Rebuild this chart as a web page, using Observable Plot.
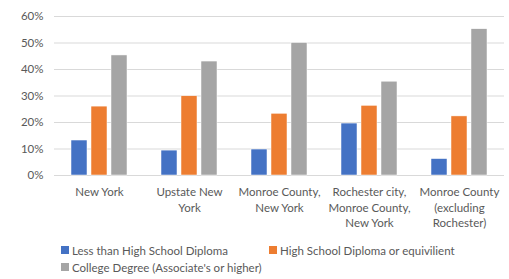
<!DOCTYPE html>
<html>
<head>
<meta charset="utf-8">
<script src="https://cdn.jsdelivr.net/npm/d3@7"></script>
<script src="https://cdn.jsdelivr.net/npm/@observablehq/plot@0.6"></script>
<style>
  html, body { margin: 0; padding: 0; background: #fff; }
  #wrap { position: relative; width: 509px; height: 279px; overflow: hidden; font-family: Lato, "Open Sans", sans-serif; }
  #title { position: absolute; left: 12px; top: -9px; font-size: 11px; font-weight: bold; color: #7f7f7f; letter-spacing: 0.3px; white-space: nowrap; }
  #chart { position: absolute; left: 0; top: 0; }
  .legend { position: absolute; left: 61px; font-size: 11.5px; color: #595959; white-space: nowrap; }
  .item { position: absolute; top: 0; height: 14px; display: flex; align-items: center; }
  .sw { width: 8px; height: 8px; margin-right: 3px; }
</style>
</head>
<body>
<div id="wrap">
  <div id="title">REGIONAL EDUCATIONAL ATTAINMENT</div>
  <div id="chart"></div>
  <div class="legend" id="legend" style="top:243px;"></div>
</div>
<script>
const categories = [
  "New York",
  "Upstate New York",
  "Monroe County, New York",
  "Rochester city, Monroe County, New York",
  "Monroe County (excluding Rochester)"
];
const categoryLabels = [
  "New York",
  "Upstate New\nYork",
  "Monroe County,\nNew York",
  "Rochester city,\nMonroe County,\nNew York",
  "Monroe County\n(excluding\nRochester)"
];
const seriesNames = [
  "Less than High School Diploma",
  "High School Diploma or equivilient",
  "College Degree (Associate's or higher)"
];
const lessThanHS = [13.2, 9.4, 9.8, 19.6, 6.2];
const hsDiploma = [26.0, 29.9, 23.3, 26.3, 22.3];
const college = [45.3, 43.0, 50.0, 35.4, 55.2];
const seriesColors = ["#4472c4", "#ed7d31", "#a5a5a5"];
const yTicks = [0, 10, 20, 30, 40, 50, 60];

const seriesValues = [lessThanHS, hsDiploma, college];
const data = [];
categories.forEach((c, i) => {
  seriesNames.forEach((s, j) => {
    data.push({region: c, series: s, value: seriesValues[j][i]});
  });
});
const labelOf = new Map(categories.map((c, i) => [c, categoryLabels[i]]));

const textColor = "#595959";
const gridColor = "#d9d9d9";

const chart = Plot.plot({
  width: 509,
  height: 236,
  marginTop: 16,
  marginBottom: 61,
  marginLeft: 52,
  marginRight: 4,
  style: {fontFamily: "Lato, 'Open Sans', sans-serif", fontSize: "11.5px", color: textColor, background: "white"},
  fx: {domain: categories, padding: 0, label: null},
  x: {domain: seriesNames, paddingInner: 0.2, paddingOuter: 0.825, axis: null},
  y: {domain: [0, 60], label: null},
  color: {domain: seriesNames, range: seriesColors},
  marks: [
    Plot.gridY(yTicks, {stroke: gridColor, strokeOpacity: 1}),
    Plot.barY(data, {fx: "region", x: "series", y: "value", fill: "series", stroke: "white", strokeWidth: 0.5}),
    Plot.axisY({ticks: yTicks, tickFormat: d => d + "%", tickSize: 0, tickPadding: 11, fontSize: 11.5, fill: textColor, label: null}),
    Plot.axisFx({anchor: "bottom", tickSize: 0, tickPadding: 10, lineHeight: 1.33, fontSize: 11.5, fill: textColor, tickFormat: d => labelOf.get(d), label: null})
  ]
});
document.getElementById("chart").appendChild(chart);

const legend = document.getElementById("legend");
const positions = [[0, 0], [208, 0], [0, 17]];
seriesNames.forEach((s, i) => {
  const item = document.createElement("div");
  item.className = "item";
  item.style.left = positions[i][0] + "px";
  item.style.top = positions[i][1] + "px";
  const sw = document.createElement("span");
  sw.className = "sw";
  sw.style.background = seriesColors[i];
  const t = document.createElement("span");
  t.textContent = s;
  item.appendChild(sw);
  item.appendChild(t);
  legend.appendChild(item);
});
</script>
</body>
</html>
